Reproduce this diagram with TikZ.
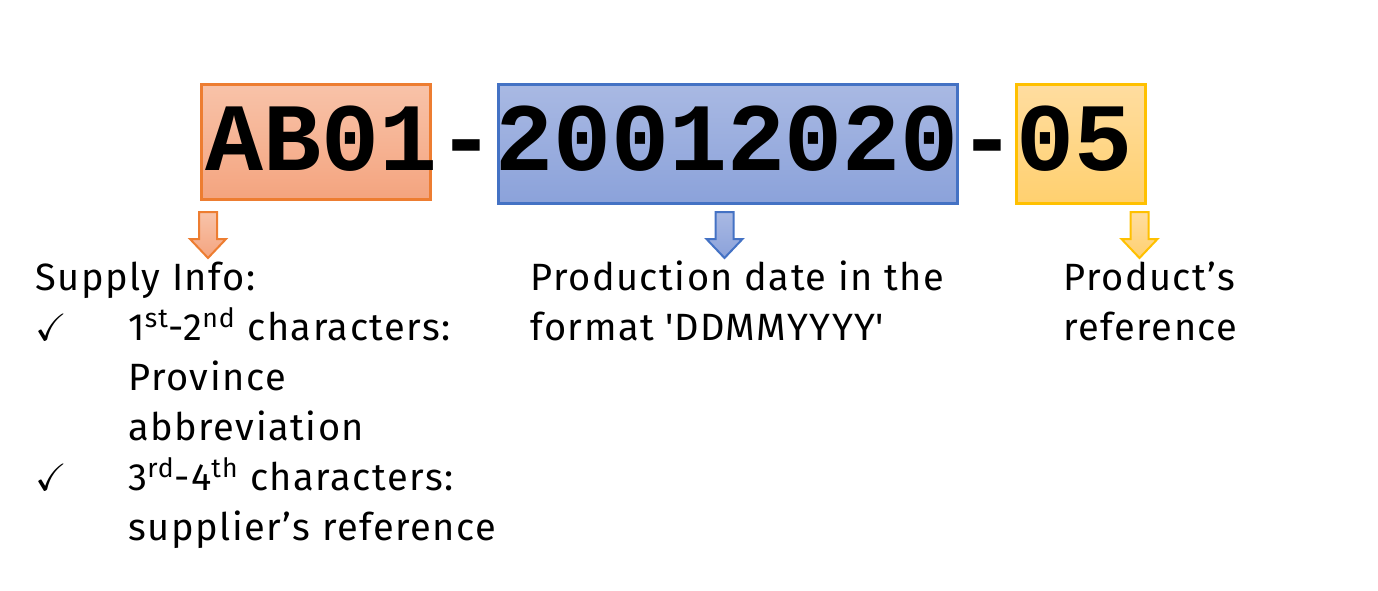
\documentclass[tikz,border=0pt]{standalone}
\usepackage{fontspec}
\usepackage{amssymb}
\setmainfont{Fira Sans}[LetterSpace=4]
\setmonofont{Liberation Mono}
\usetikzlibrary{positioning}

\definecolor{orangeline}{HTML}{ED7D31}
\definecolor{orangetop}{HTML}{F8C3A9}
\definecolor{orangebot}{HTML}{F4A47F}
\definecolor{blueline}{HTML}{4472C4}
\definecolor{bluetop}{HTML}{A9B9E3}
\definecolor{bluebot}{HTML}{8BA2DA}
\definecolor{yellowline}{HTML}{FFC000}
\definecolor{yellowtop}{HTML}{FFDDA0}
\definecolor{yellowbot}{HTML}{FFD06F}

\newcommand{\sq}{{\addfontfeatures{Ligatures=TeXOff}'}}
\newcommand{\blockarrow}[2]{%
  \draw[#1] (#2) ++(-9,0) -- ++(18,0) -- ++(0,27) -- ++(9,0) -- ++(-18,19)
    -- ++(-18,-19) -- ++(9,0) -- cycle;}

\tikzset{
  codebox/.style={line width=1.5pt, inner sep=0pt, anchor=north west},
  arrowline/.style={line width=1pt, line join=miter},
  label/.style={font=\fontsize{19}{25}\selectfont, align=left, inner sep=0pt, anchor=base west},
  codetext/.style={font=\fontsize{48.3}{50}\selectfont\ttfamily\bfseries, inner sep=0pt, anchor=base west}
}

\begin{document}
\begin{tikzpicture}[x=0.5pt, y=-0.5pt]
  \useasboundingbox (0,0) rectangle (1378,590);

  % boxes behind the code
  \node[codebox, draw=orangeline, top color=orangetop, bottom color=orangebot,
    minimum width=114.5pt, minimum height=57.5pt] (supplybox) at (199.5,82.5) {};
  \node[codebox, draw=blueline, top color=bluetop, bottom color=bluebot,
    minimum width=229.5pt, minimum height=59.5pt] (datebox) at (496.5,82.5) {};
  \node[codebox, draw=yellowline, top color=yellowtop, bottom color=yellowbot,
    minimum width=64.5pt, minimum height=59.5pt] (refbox) at (1014.5,82.5) {};

  % the code itself
  \node[codetext] (code) at (205,170) {AB01-20012020-05};

  % block arrows
  \blockarrow{arrowline, draw=orangeline, top color=orangetop, bottom color=orangebot}
    {[xshift=4.25pt, yshift=-5.75pt]supplybox.south west}
  \blockarrow{arrowline, draw=blueline, top color=bluetop, bottom color=bluebot}
    {[xshift=-1.5pt, yshift=-3.75pt]datebox.south}
  \blockarrow{arrowline, draw=yellowline, top color=yellowtop, bottom color=yellowbot}
    {[xshift=-3.5pt, yshift=-3.75pt]refbox.south east}

  % descriptions (anchored at the baseline of the last line)
  \node[label] (supplyinfo) at (35,540) {Supply Info:\\
    \makebox[46.5pt][l]{$\checkmark$}1\textsuperscript{st}-2\textsuperscript{nd} characters:\\
    \hspace*{46.5pt}Province\\
    \hspace*{46.5pt}abbreviation\\
    \makebox[46.5pt][l]{$\checkmark$}3\textsuperscript{rd}-4\textsuperscript{th} characters:\\
    \hspace*{46.5pt}supplier’s reference};
  \node[label] (dateinfo) at (530,340) {Production date in the\\format \sq DDMMYYYY\sq};
  \node[label] (refinfo) at (1063,340) {Product’s\\reference};
\end{tikzpicture}
\end{document}
